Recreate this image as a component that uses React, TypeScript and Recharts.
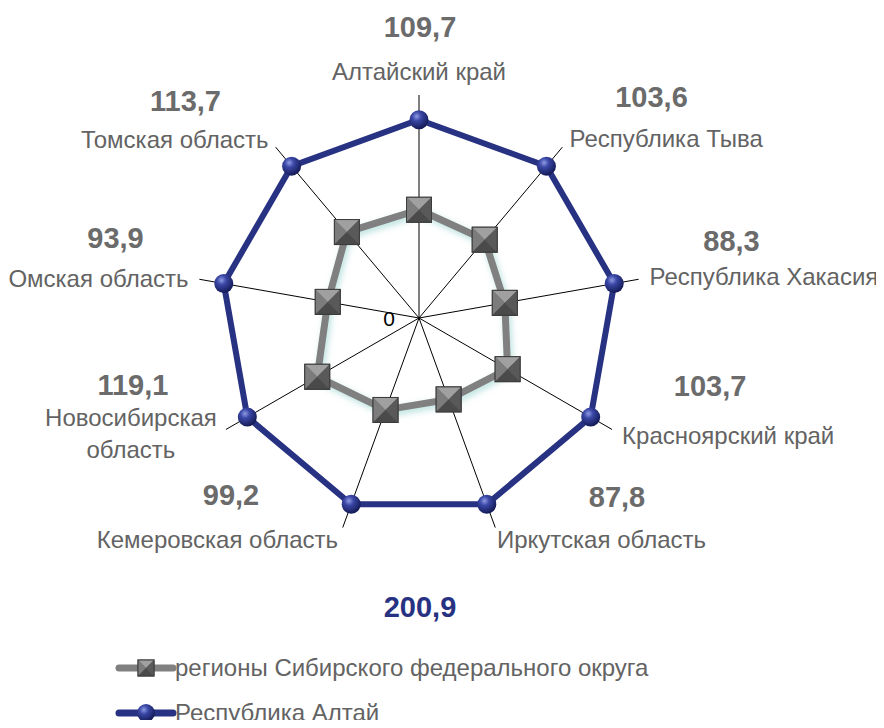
import React from 'react';
import { RadarChart, Radar, PolarGrid, PolarAngleAxis, PolarRadiusAxis, Legend, Customized } from 'recharts';

const categories = [
  'Алтайский край',
  'Республика Тыва',
  'Республика Хакасия',
  'Красноярский край',
  'Иркутская область',
  'Кемеровская область',
  'Новосибирская область',
  'Омская область',
  'Томская область',
];
const regionValues = [109.7, 103.6, 88.3, 103.7, 87.8, 99.2, 119.1, 93.9, 113.7];
const altaiValues = [200.9, 200.9, 200.9, 200.9, 200.9, 200.9, 200.9, 200.9, 200.9];
const seriesNames = ['регионы Сибирского федерального округа', 'Республика Алтай'];
const radiusDomain = [0, 226];

const data = categories.map((c, i) => ({ name: c, region: regionValues[i], altai: altaiValues[i] }));

const fmt = (v: number) => v.toFixed(1).replace('.', ',');

// label layout: offsets from the angle-axis tick point
// [nameAnchor, nameDx, nameDy(center), valueDx, valueDy(center)]
const labelLayout: any[] = [
  ['middle', 0, -15, 1, -60],
  ['start', 2, -2, 84, -44],
  ['start', 3, -1, 85, -37],
  ['start', 3, 2, 91, -48],
  ['start', -1, 5, 119, -38],
  ['end', -2, 5, -109, -40],
  ['middle', -88, 0, -86, -49],
  ['end', -3, 1, -76, -40],
  ['end', -2, -1, -85, -40],
];

const FONT = '"Liberation Sans", Arial, sans-serif';
const NAME_COLOR = '#636363';
const VALUE_COLOR = '#6b6b6b';
const GRAY = '#808080';
const NAVY = '#283282';

const GraySquare = ({ cx, cy, h = 12.5 }: any) => (
  <g>
    <rect x={cx - h} y={cy - h} width={2 * h} height={2 * h} fill="#6a6a6a" stroke="#3c3c3c" strokeWidth={1} />
    <polygon points={`${cx - h},${cy - h} ${cx + h},${cy - h} ${cx},${cy}`} fill="#a0a0a0" />
    <polygon points={`${cx - h},${cy - h} ${cx - h},${cy + h} ${cx},${cy}`} fill="#7c7c7c" />
    <polygon points={`${cx + h},${cy - h} ${cx + h},${cy + h} ${cx},${cy}`} fill="#595959" />
    <polygon points={`${cx - h},${cy + h} ${cx + h},${cy + h} ${cx},${cy}`} fill="#4a4a4a" />
    <rect x={cx - h} y={cy - h} width={2 * h} height={2 * h} fill="none" stroke="#3c3c3c" strokeWidth={1} />
  </g>
);

const BlueSphere = ({ cx, cy, r = 9.5 }: any) => (
  <circle cx={cx} cy={cy} r={r} fill="url(#sphereGrad)" />
);

const AngleTick = (props: any) => {
  const { x, y, payload } = props;
  const idx = categories.indexOf(payload.value);
  const [anchor, ndx, ndy, vdx, vdy] = labelLayout[idx];
  const name: string = payload.value;
  const lines = idx === 6 ? ['Новосибирская', 'область'] : [name];
  const lh = 32;
  return (
    <g>
      <text x={x + vdx} y={y + vdy + 10} textAnchor="middle" fontFamily={FONT} fontWeight="bold" fontSize={29} fill={VALUE_COLOR}>
        {fmt(regionValues[idx])}
      </text>
      {lines.map((ln, k) => (
        <text
          key={k}
          x={x + ndx}
          y={y + ndy + 8 + (k - (lines.length - 1) / 2) * lh}
          textAnchor={anchor}
          fontFamily={FONT}
          fontSize={24}
          fill={NAME_COLOR}
        >
          {ln}
        </text>
      ))}
    </g>
  );
};

const RadiusTick = (props: any) => {
  const { x, y, payload } = props;
  if (payload.value !== 0) return <g />;
  return (
    <text x={x - 30} y={y + 8} textAnchor="middle" fontFamily={FONT} fontSize={21} fill="#000">
      {payload.value}
    </text>
  );
};

const LegendContent = () => (
  <div style={{ fontFamily: FONT, fontSize: 24, color: NAME_COLOR }}>
    {seriesNames.map((n, i) => (
      <div key={n} style={{ display: 'flex', alignItems: 'center', height: 45 }}>
        <svg width={62} height={24} style={{ display: 'block' }}>
          <line x1={4} y1={12} x2={58} y2={12} stroke={i === 0 ? GRAY : NAVY} strokeWidth={7} strokeLinecap="round" />
          {i === 0 ? <GraySquare cx={31} cy={12} h={8} /> : <BlueSphere cx={31} cy={12} r={9} />}
        </svg>
        <span style={{ marginLeft: -2 }}>{n}</span>
      </div>
    ))}
  </div>
);

const Defs = () => (
  <defs>
    <radialGradient id="sphereGrad" cx="38%" cy="32%" r="70%">
      <stop offset="0%" stopColor="#8e9be3" />
      <stop offset="35%" stopColor="#3a47a6" />
      <stop offset="100%" stopColor="#121852" />
    </radialGradient>
    <filter id="glow" x="-20%" y="-20%" width="140%" height="140%">
      <feDropShadow dx="2" dy="3" stdDeviation="3" floodColor="#7fc9c2" floodOpacity="0.55" />
    </filter>
  </defs>
);

export default function App() {
  return (
    <div style={{ width: 876, height: 712 }}>
      <RadarChart
        width={876}
        height={712}
        data={data}
        cx={411}
        cy={310}
        outerRadius={223}
        startAngle={90}
        endAngle={-270}
        margin={{ top: 0, right: 0, bottom: 0, left: 0 }}
      >
        <Customized component={Defs} />
        <PolarGrid gridType="polygon" polarRadius={[0]} stroke="#000" strokeWidth={1} strokeOpacity={1} />
        <PolarAngleAxis dataKey="name" axisLine={false} tickLine={false} tick={<AngleTick />} />
        <PolarRadiusAxis
          angle={90}
          domain={radiusDomain}
          tickCount={2}
          axisLine={false}
          tickLine={false}
          tick={<RadiusTick />}
        />
        <Radar
          name={seriesNames[0]}
          dataKey="region"
          stroke={GRAY}
          strokeWidth={7}
          fill="none"
          fillOpacity={0}
          className="gray-radar"
          style={{ filter: 'url(#glow)' }}
          dot={(p: any) => <GraySquare key={`g${p.index}`} cx={p.cx} cy={p.cy} />}
          isAnimationActive={false}
        />
        <Radar
          name={seriesNames[1]}
          dataKey="altai"
          stroke={NAVY}
          strokeWidth={6}
          fill="none"
          fillOpacity={0}
          dot={(p: any) => <BlueSphere key={`b${p.index}`} cx={p.cx} cy={p.cy} />}
          isAnimationActive={false}
        />
        <Customized
          component={() => (
            <text x={412} y={609} textAnchor="middle" fontFamily={FONT} fontWeight="bold" fontSize={29} fill={NAVY}>
              {fmt(altaiValues[0])}
            </text>
          )}
        />
        <Legend
          content={<LegendContent />}
          wrapperStyle={{ position: 'absolute', left: 107, top: 637, width: 700 }}
        />
      </RadarChart>
    </div>
  );
}
